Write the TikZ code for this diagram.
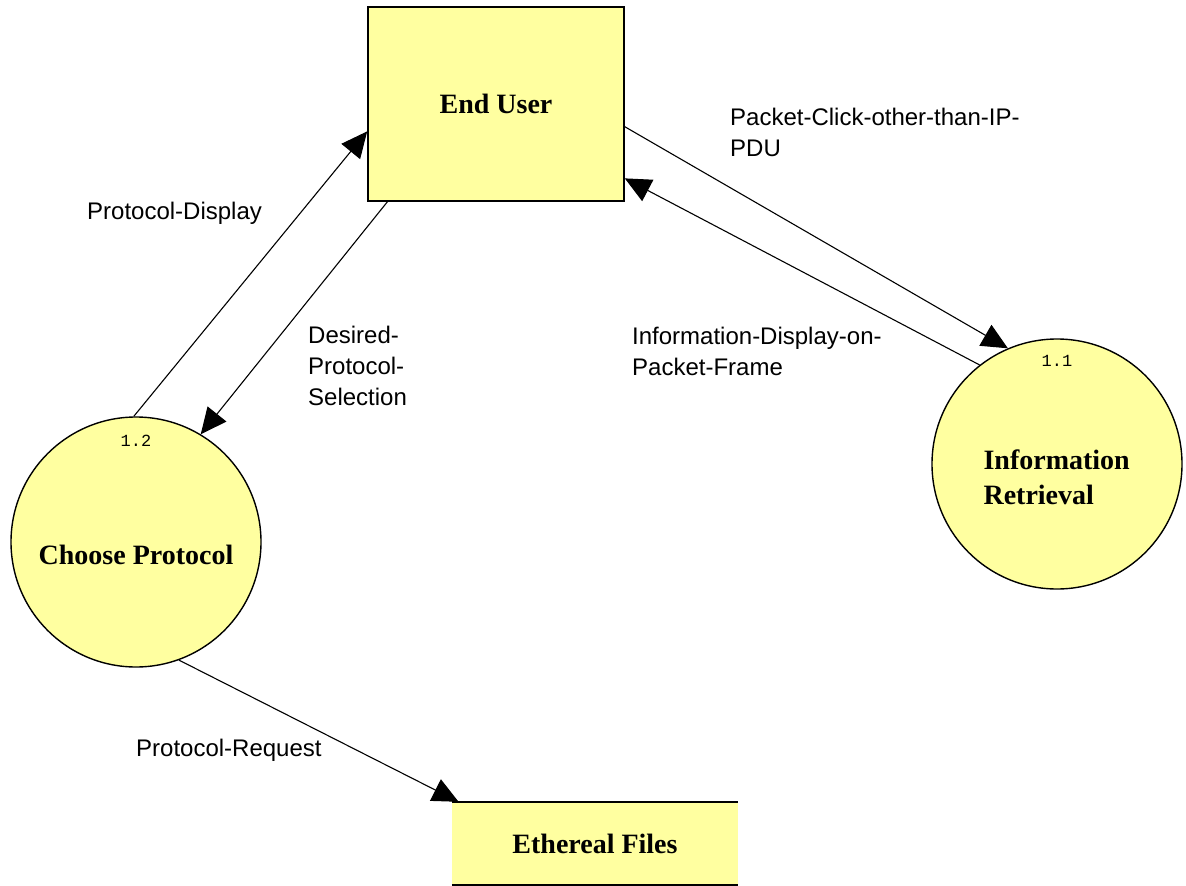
\documentclass[tikz,border=0pt]{standalone}
\usepackage{fontspec}
\setmainfont{Liberation Serif}
\setsansfont{Liberation Sans}
\newfontfamily\numfont{Liberation Mono}
\usetikzlibrary{arrows.meta}
\definecolor{procfill}{RGB}{255,255,160}
\tikzset{
  flow/.style={line width=1.1pt,-{Triangle[length=26pt,width=24pt]}},
  entity/.style={draw,line width=1.6pt,fill=procfill,rectangle,inner sep=0pt,
    font=\fontsize{28}{30}\selectfont\bfseries},
  process/.style={draw,line width=1.4pt,fill=procfill,circle,inner sep=0pt,minimum size=250pt},
  ptext/.style={font=\fontsize{28}{35}\selectfont\bfseries,align=left},
  pnum/.style={font=\fontsize{17}{18}\selectfont\numfont},
  flowlabel/.style={font=\fontsize{24}{31}\selectfont\sffamily,align=left,anchor=west,inner sep=0pt},
}
\begin{document}
\begin{tikzpicture}[x=1pt,y=-1pt]
\useasboundingbox (0,0) rectangle (1186,886);
% entities
\node[entity,minimum width=256pt,minimum height=194pt] (eu) at (496,104) {End User};
\node[fill=procfill,inner sep=0pt,minimum width=286pt,minimum height=83pt,
  font=\fontsize{28}{30}\selectfont\bfseries] (ef) at (595,843.5) {Ethereal Files};
\draw[line width=1.8pt] (ef.north west) -- (ef.north east);
\draw[line width=1.8pt] (ef.south west) -- (ef.south east);
% processes
\node[process] (cp) at (136,542) {};
\node[ptext] (cpt) at (136,555) {Choose Protocol};
\node[pnum] (cpn) at (136,441) {1.2};
\node[process] (ir) at (1057,464) {};
\node[ptext,anchor=west] (irt) at (980,477) {Information\\Retrieval};
\node[pnum] (irn) at (1057,361) {1.1};
% flows
\draw[flow] (cp.91) -- (eu.192.3);
\draw[flow] (eu.222) -- (cp.59);
\draw[flow] (eu.350.7) -- (ir.113);
\draw[flow] (ir.128) -- (eu.330);
\draw[flow] (cp.290) -- (ef.163);
% labels
\node[flowlabel] (l1) at (87,213) {Protocol-Display};
\node[flowlabel,anchor=north west] (l2) at (308,326) {Desired-\\Protocol-\\Selection};
\node[flowlabel,anchor=north west] (l3) at (730,108) {Packet-Click-other-than-IP-\\PDU};
\node[flowlabel,anchor=north west] (l4) at (632,327) {Information-Display-on-\\Packet-Frame};
\node[flowlabel] (l5) at (136,750) {Protocol-Request};
\end{tikzpicture}
\end{document}
